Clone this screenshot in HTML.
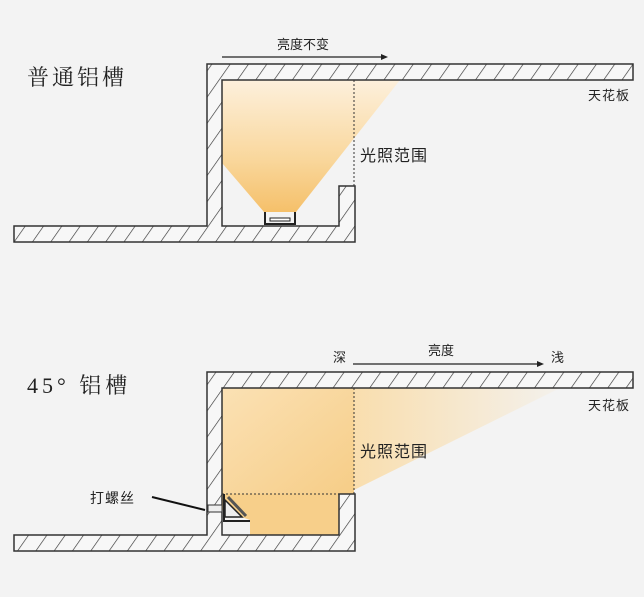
<!DOCTYPE html>
<html><head><meta charset="utf-8"><style>
html,body{margin:0;padding:0;background:#f3f3f3;}
svg{display:block}
text{font-family:"Liberation Sans","Noto Sans CJK SC",sans-serif;fill:#222}
.t{font-family:"Liberation Serif","Noto Serif CJK SC",serif;}
</style></head><body>
<svg width="644" height="597" viewBox="0 0 644 597" xmlns="http://www.w3.org/2000/svg">
<defs>
<pattern id="h" patternUnits="userSpaceOnUse" width="15" height="15" patternTransform="rotate(35)">
<rect width="15" height="15" fill="#f7f7f7"/>
<line x1="0" y1="0" x2="0" y2="15" stroke="#333" stroke-width="1.3"/>
</pattern>
<linearGradient id="g1" x1="0" y1="0" x2="0" y2="1">
<stop offset="0" stop-color="#fdf0dc"/><stop offset="0.6" stop-color="#f9d79c"/><stop offset="1" stop-color="#f5c06a"/>
</linearGradient>
<linearGradient id="g2" x1="0" y1="0" x2="1" y2="1">
<stop offset="0" stop-color="#fbe1b4"/><stop offset="1" stop-color="#f6cd87"/>
</linearGradient>
<linearGradient id="g3" x1="0" y1="0" x2="1" y2="0">
<stop offset="0" stop-color="#f9deae"/><stop offset="1" stop-color="#f9deae" stop-opacity="0.1"/>
</linearGradient>
</defs>

<!-- TOP -->
<text class="t" x="27" y="85" font-size="22" letter-spacing="3">普通铝槽</text>
<polygon points="222,80 400,80 296,212 264,212 222,163" fill="url(#g1)"/>
<path d="M14,226 H207 V64 H633 V80 H222 V226 H339 V186 H355 V242 H14 Z" fill="url(#h)" stroke="#333" stroke-width="1.5"/>
<line x1="354" y1="80" x2="354" y2="186" stroke="#333" stroke-dasharray="2,2"/>
<path d="M265,212 V224 H295 V212" fill="none" stroke="#222" stroke-width="2"/>
<rect x="270" y="218" width="20" height="3" fill="#fff" stroke="#222" stroke-width="1"/>
<line x1="222" y1="57" x2="385" y2="57" stroke="#222" stroke-width="1.2"/>
<polygon points="388,57 381,54 381,60" fill="#222"/>
<text x="277" y="49" font-size="13">亮度不变</text>
<text x="588" y="100" font-size="13" letter-spacing="1">天花板</text>
<text x="360" y="161" font-size="16" letter-spacing="1">光照范围</text>

<!-- BOTTOM -->
<text class="t" x="27" y="393" font-size="22" letter-spacing="4">45° 铝槽</text>
<polygon points="354,388 560,388 354,490" fill="url(#g3)"/>
<rect x="222" y="388" width="132" height="106" fill="url(#g2)"/>
<polygon points="222,494 339,494 339,535 250,535 250,520 222,510" fill="#f7cf8a"/>
<path d="M14,535 H207 V372 H633 V388 H222 V535 H339 V494 H355 V551 H14 Z" fill="url(#h)" stroke="#333" stroke-width="1.5"/>
<line x1="354" y1="388" x2="354" y2="494" stroke="#333" stroke-dasharray="2,2"/>
<line x1="222" y1="494" x2="339" y2="494" stroke="#333" stroke-dasharray="2,2"/>
<rect x="208" y="505" width="14" height="7" fill="#eee" stroke="#333" stroke-width="1"/>
<path d="M224,494 V521 H250" fill="none" stroke="#222" stroke-width="2"/>
<polygon points="225,500 242,517 225,517" fill="#eee" stroke="#222" stroke-width="1.5"/>
<line x1="228" y1="497" x2="246" y2="516" stroke="#555" stroke-width="3"/>
<line x1="152" y1="497" x2="205" y2="510" stroke="#111" stroke-width="2"/>
<text x="90" y="503" font-size="14" letter-spacing="1">打螺丝</text>
<line x1="353" y1="364" x2="541" y2="364" stroke="#222" stroke-width="1.2"/>
<polygon points="544,364 537,361 537,367" fill="#222"/>
<text x="333" y="362" font-size="13">深</text>
<text x="428" y="355" font-size="13">亮度</text>
<text x="551" y="362" font-size="13">浅</text>
<text x="588" y="410" font-size="13" letter-spacing="1">天花板</text>
<text x="360" y="457" font-size="16" letter-spacing="1">光照范围</text>
</svg>
</body></html>
